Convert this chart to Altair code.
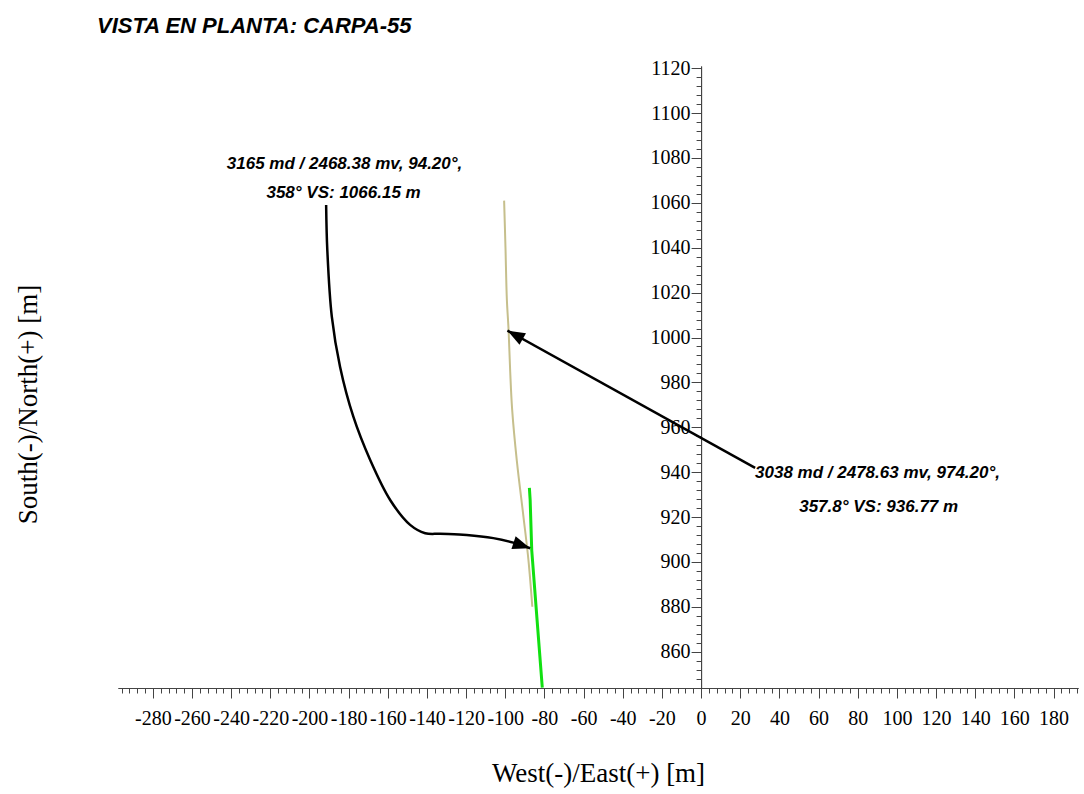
import math
import altair as alt
import pandas as pd

# ---------------- data ----------------
title_text = "VISTA EN PLANTA: CARPA-55"
x_title = "West(-)/East(+) [m]"
y_title = "South(-)/North(+) [m]"

x_domain = [-297.8, 192.5]
y_domain = [843.8, 1121.0]
x_major = list(range(-280, 181, 20))
x_minor = list(range(-296, 193, 4))
y_major = list(range(860, 1121, 20))
y_minor = list(range(844, 1121, 4))

# planned well path (tan)
tan_x = [-100.6, -99.9, -99.2, -98.3, -97.5, -96.5, -94.1, -90.7, -88.2, -86.2]
tan_y = [1061.0, 1040.0, 1017.0, 1003.0, 985.0, 968.0, 945.0, 920.0, 901.0, 880.0]

# actual well path (green)
green_x = [-87.7, -87.3, -86.5, -83.9, -81.1]
green_y = [933.0, 927.6, 905.3, 875.6, 844.0]

# annotation arrows (callout leaders)
arrow1_x = [-191.5, -190.9, -188.6, -184.4, -177.6, -169.0, -158.8, -148.6,
            -140.9, -133.3, -119.7, -106.1, -95.9, -87.3]
arrow1_y = [1059.1, 1039.0, 1009.3, 987.0, 964.7, 945.4, 927.6, 916.5,
            912.8, 912.5, 912.0, 910.6, 908.6, 906.1]
arrow2_x = [27.6, -98.9]
arrow2_y = [941.9, 1003.1]

label_lines = ["3165 md / 2468.38 mv, 94.20°,", "358° VS: 1066.15 m",
               "3038 md / 2478.63 mv, 974.20°,", "357.8° VS: 936.77 m"]
label_x = [-182.1, -182.6, 90.1, 90.7]
label_y = [1077.4, 1064.4, 939.7, 924.6]

# ---------------- layout ----------------
W, H = 960, 622
PAD = {"left": 118, "top": 66, "right": 6, "bottom": 106}
kx = W / (x_domain[1] - x_domain[0])
ky = H / (y_domain[1] - y_domain[0])
y_axis_offset = -(0 - x_domain[0]) * kx  # move y axis to x = 0

SERIF = "Liberation Serif"
SANS = "Liberation Sans"

xs = alt.Scale(domain=x_domain, nice=False, zero=False)
ys = alt.Scale(domain=y_domain, nice=False, zero=False)


def head_angle(xv, yv):
    dx = (xv[-1] - xv[-2]) * kx
    dy = -(yv[-1] - yv[-2]) * ky
    return math.degrees(math.atan2(dy, dx)) % 360


tan_df = pd.DataFrame({"x": tan_x, "y": tan_y, "i": range(len(tan_x))})
green_df = pd.DataFrame({"x": green_x, "y": green_y, "i": range(len(green_x))})
arrow1_df = pd.DataFrame({"x": arrow1_x, "y": arrow1_y, "i": range(len(arrow1_x))})
arrow2_df = pd.DataFrame({"x": arrow2_x, "y": arrow2_y, "i": range(len(arrow2_x))})
heads_df = pd.DataFrame({
    "x": [arrow1_x[-1], arrow2_x[-1]],
    "y": [arrow1_y[-1], arrow2_y[-1]],
    "angle": [head_angle(arrow1_x, arrow1_y), head_angle(arrow2_x, arrow2_y)],
})
labels_df = pd.DataFrame({"x": label_x, "y": label_y, "t": label_lines})

AX_COLOR = "#444444"

x_major_axis = alt.Axis(
    orient="bottom", values=x_major, tickSize=10, tickColor=AX_COLOR, domainColor=AX_COLOR,
    labelFont=SERIF, labelFontSize=20, labelColor="black", labelPadding=10,
    labelExpr="'' + datum.value", labelOverlap=False, labelFlush=False, labelBound=False,
    grid=False, title=x_title, titleFont=SERIF, titleFontSize=27, titleFontWeight="normal",
    titleColor="black", titleY=85, titleBaseline="middle",
)
x_minor_axis = alt.Axis(
    orient="bottom", values=x_minor, tickSize=5, tickColor=AX_COLOR, domainColor=AX_COLOR,
    labels=False, grid=False, title=None,
)
y_major_axis = alt.Axis(
    orient="left", offset=y_axis_offset, values=y_major, tickSize=10, tickColor=AX_COLOR,
    domainColor=AX_COLOR, labelFont=SERIF, labelFontSize=20, labelColor="black",
    labelPadding=1, labelExpr="'' + datum.value", labelOverlap=False, labelFlush=False,
    labelBound=False, grid=False, title=y_title, titleFont=SERIF, titleFontSize=27,
    titleFontWeight="normal", titleColor="black", titleAngle=270, titleAlign="center",
    titleBaseline="middle", titleX=28 - (PAD["left"] - y_axis_offset), titleY=338,
)
y_minor_axis = alt.Axis(
    orient="left", offset=y_axis_offset, values=y_minor, tickSize=5, tickColor=AX_COLOR,
    domainColor=AX_COLOR, labels=False, grid=False, title=None,
)

tan = alt.Chart(tan_df).mark_line(
    color="#c6bf8c", strokeWidth=2, interpolate="catmull-rom"
).encode(
    x=alt.X("x:Q", scale=xs, axis=x_major_axis),
    y=alt.Y("y:Q", scale=ys, axis=y_major_axis),
    order="i:Q",
)
green = alt.Chart(green_df).mark_line(color="#11e011", strokeWidth=3).encode(
    x=alt.X("x:Q", scale=xs, axis=x_minor_axis),
    y=alt.Y("y:Q", scale=ys, axis=y_minor_axis),
    order="i:Q",
)
arrow1 = alt.Chart(arrow1_df).mark_line(
    color="black", strokeWidth=2.5, interpolate="catmull-rom"
).encode(
    x=alt.X("x:Q", scale=xs, axis=None),
    y=alt.Y("y:Q", scale=ys, axis=None),
    order="i:Q",
)
arrow2 = alt.Chart(arrow2_df).mark_line(color="black", strokeWidth=2.5).encode(
    x=alt.X("x:Q", scale=xs, axis=None),
    y=alt.Y("y:Q", scale=ys, axis=None),
    order="i:Q",
)
heads = alt.Chart(heads_df).mark_point(
    shape="M0,0L-1,-0.38L-1,0.38Z", filled=True, size=1225, color="black", opacity=1,
).encode(
    x=alt.X("x:Q", scale=xs, axis=None),
    y=alt.Y("y:Q", scale=ys, axis=None),
    angle=alt.Angle("angle:Q", scale=None),
)
labels = alt.Chart(labels_df).mark_text(
    font=SANS, fontSize=17, fontStyle="italic", fontWeight="bold", color="black",
    align="center", baseline="middle",
).encode(
    x=alt.X("x:Q", scale=xs, axis=None),
    y=alt.Y("y:Q", scale=ys, axis=None),
    text="t:N",
)

chart = alt.layer(tan, green, arrow1, arrow2, heads, labels).resolve_axis(
    x="independent", y="independent"
).properties(
    width=W,
    height=H,
    title=alt.TitleParams(
        title_text, anchor="start", frame="group", font=SANS, fontSize=22,
        fontStyle="italic", fontWeight="bold", color="black", baseline="alphabetic",
        offset=0, dx=-21, dy=-3,
    ),
    autosize=alt.AutoSizeParams(type="none"),
    padding=PAD,
    background="white",
).configure_view(stroke=None)

chart.save("out.html", embed_options={"renderer": "svg", "actions": False})
